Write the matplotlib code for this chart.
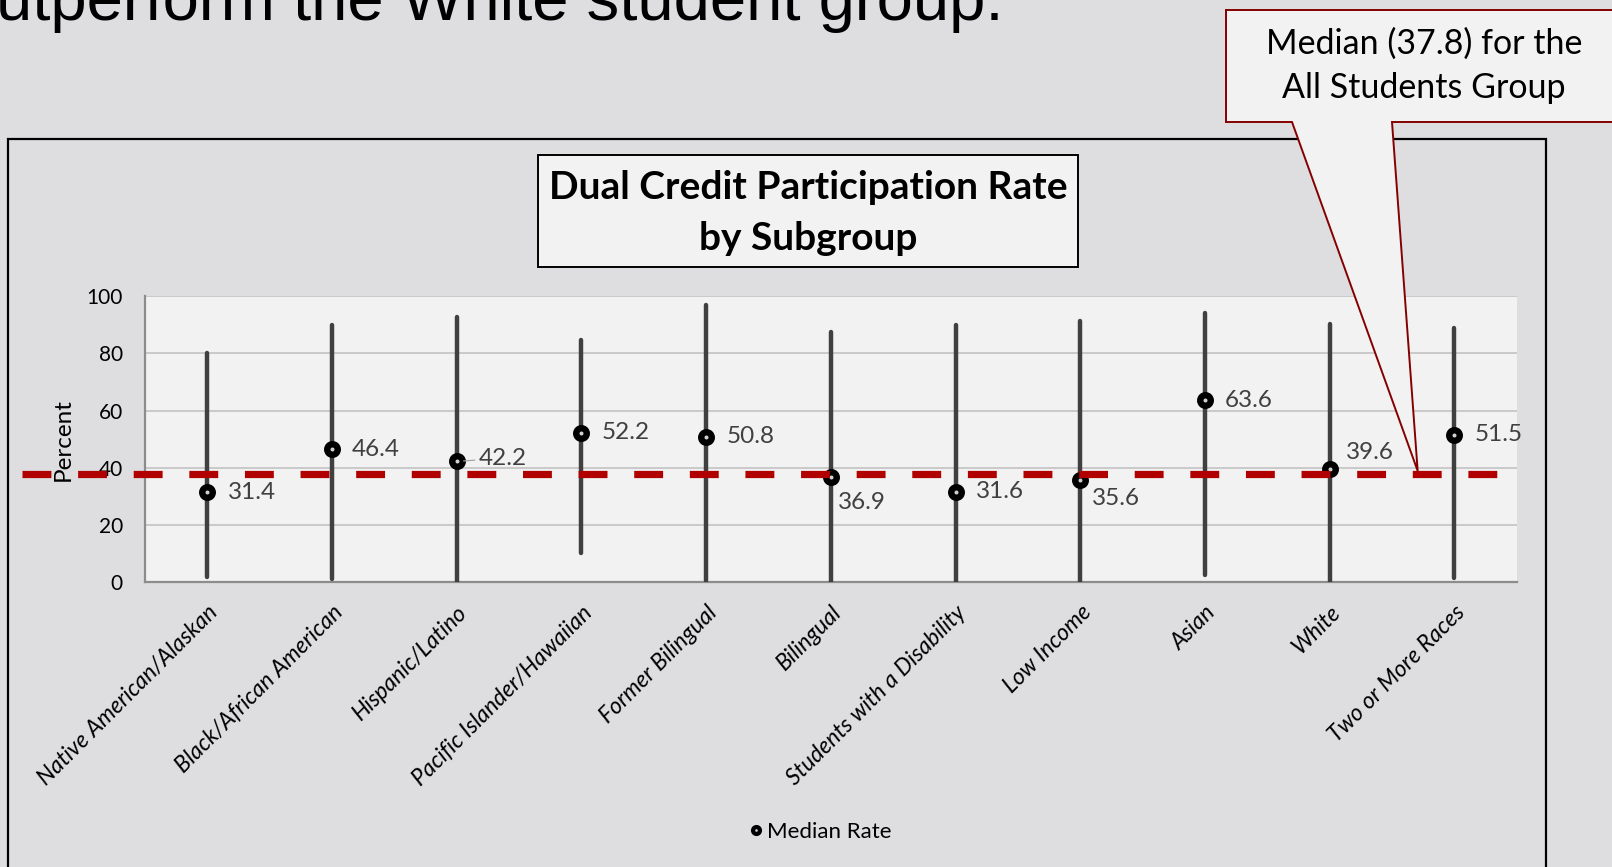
import matplotlib.pyplot as plt
import matplotlib.transforms as mtransforms
from matplotlib import font_manager
from matplotlib.patches import Rectangle, Polygon
from matplotlib.lines import Line2D

W, H = 1612, 867

categories = [
    "Native American/Alaskan", "Black/African American", "Hispanic/Latino",
    "Pacific Islander/Hawaiian", "Former Bilingual", "Bilingual",
    "Students with a Disability", "Low Income", "Asian", "White",
    "Two or More Races",
]
median_rate = [31.4, 46.4, 42.2, 52.2, 50.8, 36.9, 31.6, 35.6, 63.6, 39.6, 51.5]
range_low = [2.0, 1.2, 0.0, 10.3, 0.4, 0.0, 0.0, 0.0, 2.5, 0.0, 1.5]
range_high = [80.2, 89.7, 92.6, 84.5, 96.9, 87.6, 89.8, 91.3, 94.2, 90.3, 88.8]
all_students_median = 37.8

# where each value label sits relative to its point (points)
label_offsets = {5: (5, -18.5), 7: (8.5, -12.7), 9: (12, 12), 2: (16, 2.5)}

plt.rcParams['font.family'] = ['Lato', 'DejaVu Sans']


def fx(px):
    return px / W


def fy(py):
    return 1 - py / H


def has_font(name):
    try:
        font_manager.findfont(name, fallback_to_default=False)
        return True
    except ValueError:
        return False


fig = plt.figure(figsize=(W / 100, H / 100), dpi=100, facecolor='#dedee0')

# slide headline, running off the top edge
if has_font('Liberation Sans Narrow'):
    head_family, head_size = 'Liberation Sans Narrow', 57
else:
    head_family, head_size = 'Liberation Sans', 47
fig.text(fx(-4), fy(20), "utperform the White student group.",
         fontsize=head_size, family=[head_family, 'DejaVu Sans'],
         ha='left', va='baseline')

# chart frame
fig.add_artist(Rectangle((fx(8), fy(900)), fx(1546 - 8), (900 - 139) / H,
                         transform=fig.transFigure, fill=False,
                         edgecolor='black', lw=1.6, zorder=1))

ax = fig.add_axes([fx(145), fy(582.3), fx(1371.7), 286.3 / H])
ax.set_facecolor('#f2f2f2')
xs = list(range(len(categories)))

ax.vlines(xs, range_low, range_high, color='#404040', lw=3.2,
          capstyle='round', zorder=3)
ax.plot(xs, median_rate, ls='none', marker='o', ms=7.6, mfc='#d0d0d0',
        mec='black', mew=4.6, zorder=4)

for i, v in enumerate(median_rate):
    off = label_offsets.get(i, (14.5, 0))
    kw = {}
    if i == 2:
        kw['arrowprops'] = dict(arrowstyle='-', color='#a6a6a6', lw=0.9,
                                shrinkA=1, shrinkB=5)
    ax.annotate(f"{v:.1f}", (i, v), xytext=off, textcoords='offset points',
                ha='left', va='center', fontsize=17.5, color='#404040',
                zorder=5, **kw)

# all-students median across the whole chart
blend = mtransforms.blended_transform_factory(ax.transAxes, ax.transData)
ax.plot([-0.0897, 0.998], [all_students_median] * 2, transform=blend,
        color='#b00000', lw=5.2, dashes=(4.0, 3.7), clip_on=False, zorder=6)

ax.set_xlim(-0.5, len(categories) - 0.5)
ax.set_ylim(0, 100)
ax.set_yticks(range(0, 101, 20))
ax.grid(axis='y', color='#c6c6c6', lw=1.3)
ax.set_axisbelow(True)
for s in ('top', 'right'):
    ax.spines[s].set_visible(False)
for s in ('left', 'bottom'):
    ax.spines[s].set_color('#8c8c8c')
    ax.spines[s].set_linewidth(1.6)
ax.tick_params(axis='y', length=0, pad=16, labelsize=15)
ax.set_xticks(xs, categories, rotation=45, ha='right', rotation_mode='anchor',
              style='italic', fontsize=16.5)
ax.tick_params(axis='x', length=0, pad=14)
ax.set_ylabel('Percent', fontsize=17.5)
ax.yaxis.set_label_coords(-0.052, 0.5)

# title box
fig.add_artist(Rectangle((fx(538), fy(267)), fx(1078 - 538), (267 - 155) / H,
                         transform=fig.transFigure, facecolor='#f2f2f2',
                         edgecolor='black', lw=1.4, zorder=2))
fig.text(fx(808), fy(199), "Dual Credit Participation Rate", fontsize=28,
         fontweight='bold', ha='center', va='baseline', zorder=3)
fig.text(fx(808), fy(250), "by Subgroup", fontsize=28, fontweight='bold',
         ha='center', va='baseline', zorder=3)

# callout pointing at the median line
tip = fig.transFigure.inverted().transform(ax.transData.transform((9.706, 38.9)))
callout = [(fx(1226), fy(10)), (fx(1640), fy(10)), (fx(1640), fy(122)),
           (fx(1392), fy(122)), tuple(tip), (fx(1292), fy(122)),
           (fx(1226), fy(122))]
fig.add_artist(Polygon(callout, closed=True, transform=fig.transFigure,
                       facecolor='#f2f2f2', edgecolor='#840000', lw=1.4,
                       zorder=7))
fig.text(fx(1424), fy(54), "Median (37.8) for the", fontsize=24.5,
         ha='center', va='baseline', zorder=8)
fig.text(fx(1424), fy(98), "All Students Group", fontsize=24.5,
         ha='center', va='baseline', zorder=8)

handle = Line2D([], [], ls='none', marker='o', ms=5, mfc='#d0d0d0',
                mec='black', mew=3)
fig.legend(handles=[handle], labels=['Median Rate'], loc='center',
           bbox_to_anchor=(fx(820), fy(832)), frameon=False, fontsize=16,
           handlelength=0.6, handletextpad=0.2)

fig.savefig('out.png', dpi=100, facecolor=fig.get_facecolor())
